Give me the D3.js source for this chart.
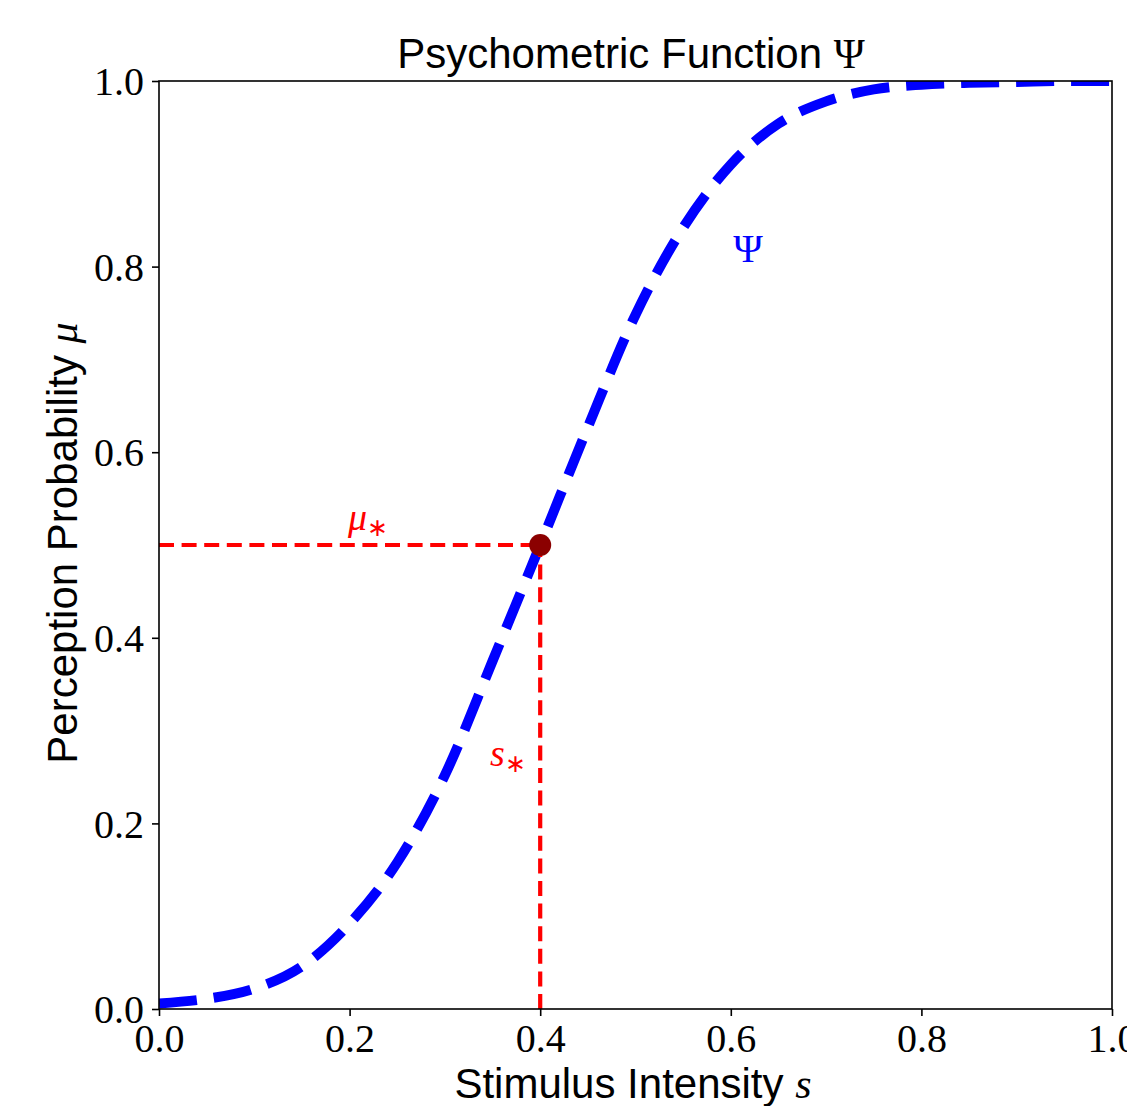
<!DOCTYPE html>
<html>
<head>
<meta charset="utf-8">
<script src="https://cdn.jsdelivr.net/npm/d3@7"></script>
<style>
  body { margin: 0; background: #fff; }
  svg { display: block; }
  .tick text { font-family: "Liberation Serif", serif; }
</style>
</head>
<body>
<div id="chart"></div>
<script>
var w = 1127,
  h = 1106;

// plot area in pixels
var margin = { top: 81, right: 15, bottom: 97, left: 159 };

// stimulus intensity s and perception probability
var stimulus = [0, 0.05, 0.1, 0.15, 0.2, 0.25, 0.3, 0.35, 0.4, 0.45, 0.5,
  0.55, 0.6, 0.65, 0.7, 0.75, 0.8, 0.85, 0.9, 0.95, 1.0];
var probability = [0.006, 0.011, 0.022, 0.046, 0.092, 0.158, 0.252, 0.375, 0.5, 0.627, 0.748,
  0.842, 0.910, 0.954, 0.978, 0.991, 0.996, 0.998, 0.999, 1.0, 1.0];

// threshold point (s*, mu*)
var threshold = [0.4, 0.5];

var tickValues = [0, 0.2, 0.4, 0.6, 0.8, 1.0];

var svg = d3.select('#chart').append('svg')
  .attr('width', w)
  .attr('height', h);

var x = d3.scaleLinear().domain([0, 1]).range([margin.left, w - margin.right]);
var y = d3.scaleLinear().domain([0, 1]).range([h - margin.bottom, margin.top]);

svg.append('clipPath').attr('id', 'plot-clip')
  .append('rect')
  .attr('x', x(0)).attr('y', y(1))
  .attr('width', x(1) - x(0)).attr('height', y(0) - y(1));

var plot = svg.append('g').attr('clip-path', 'url(#plot-clip)');

// psychometric curve
var line = d3.line()
  .x(function(d, i) { return x(stimulus[i]); })
  .y(function(d, i) { return y(probability[i]); })
  .curve(d3.curveMonotoneX);

plot.append('path')
  .datum(probability)
  .attr('d', line)
  .attr('fill', 'none')
  .attr('stroke', '#0000ff')
  .attr('stroke-width', 10)
  .attr('stroke-dasharray', '38,17');

// dashed guides to the threshold
var guide = d3.line().x(function(d) { return x(d[0]); }).y(function(d) { return y(d[1]); });

plot.append('path')
  .datum([[0, threshold[1]], [threshold[0], threshold[1]]])
  .attr('d', guide)
  .attr('fill', 'none')
  .attr('stroke', '#ff0000')
  .attr('stroke-width', 4.2)
  .attr('stroke-dasharray', '15,7.6');

plot.append('path')
  .datum([[threshold[0], 0], [threshold[0], threshold[1]]])
  .attr('d', guide)
  .attr('fill', 'none')
  .attr('stroke', '#ff0000')
  .attr('stroke-width', 4.2)
  .attr('stroke-dasharray', '15,7.6');

plot.append('circle')
  .attr('cx', x(threshold[0]))
  .attr('cy', y(threshold[1]))
  .attr('r', 11)
  .attr('fill', '#8b0000');

// axes
var xAxis = svg.append('g')
  .attr('transform', 'translate(0,' + y(0) + ')')
  .call(d3.axisBottom(x).tickValues(tickValues).tickSize(7).tickPadding(8)
    .tickFormat(d3.format('.1f')));

var yAxis = svg.append('g')
  .attr('transform', 'translate(' + x(0) + ',0)')
  .call(d3.axisLeft(y).tickValues(tickValues).tickSize(7).tickPadding(8)
    .tickFormat(d3.format('.1f')));

[xAxis, yAxis].forEach(function(a) {
  a.select('.domain').remove();
  a.selectAll('.tick line').attr('stroke', '#000').attr('stroke-width', 1.6);
  a.selectAll('.tick text').attr('fill', '#000').style('font-size', '40px');
});
yAxis.selectAll('.tick text').attr('dy', '0.34em');

// frame
svg.append('rect')
  .attr('x', x(0)).attr('y', y(1))
  .attr('width', x(1) - x(0)).attr('height', y(0) - y(1))
  .attr('fill', 'none')
  .attr('stroke', '#000')
  .attr('stroke-width', 1.6);

// title and axis labels
var sans = '"Liberation Sans", Arial, sans-serif';
var serif = '"Liberation Serif", serif';

var title = svg.append('text')
  .attr('x', 631).attr('y', 68)
  .attr('text-anchor', 'middle')
  .style('font-family', sans).style('font-size', '42px');
title.append('tspan').text('Psychometric Function ');
title.append('tspan').style('font-family', serif).text('\u03A8');

var xLabel = svg.append('text')
  .attr('x', 633).attr('y', 1098)
  .attr('text-anchor', 'middle')
  .style('font-family', sans).style('font-size', '42px');
xLabel.append('tspan').text('Stimulus Intensity ');
xLabel.append('tspan').style('font-family', serif).style('font-style', 'italic').text('s');

var yLabel = svg.append('text')
  .attr('transform', 'translate(77,' + 543 + ') rotate(-90)')
  .attr('text-anchor', 'middle')
  .style('font-family', sans).style('font-size', '42px');
yLabel.append('tspan').text('Perception Probability ');
yLabel.append('tspan').style('font-family', serif).style('font-style', 'italic').text('\u03BC');

// annotations
var mu = svg.append('text')
  .attr('x', 368).attr('y', 530)
  .attr('text-anchor', 'middle')
  .attr('fill', '#ff0000')
  .style('font-family', serif).style('font-size', '38px');
mu.append('tspan').style('font-style', 'italic').text('\u03BC');
mu.append('tspan').attr('dy', 6).style('font-size', '25px').text('\u2217');

var sStar = svg.append('text')
  .attr('x', 508).attr('y', 766)
  .attr('text-anchor', 'middle')
  .attr('fill', '#ff0000')
  .style('font-family', serif).style('font-size', '38px');
sStar.append('tspan').style('font-style', 'italic').text('s');
sStar.append('tspan').attr('dy', 6).style('font-size', '25px').text('\u2217');

svg.append('text')
  .attr('x', 748).attr('y', 262)
  .attr('text-anchor', 'middle')
  .attr('fill', '#0000ff')
  .style('font-family', serif).style('font-size', '40px')
  .text('\u03A8');
</script>
</body>
</html>
